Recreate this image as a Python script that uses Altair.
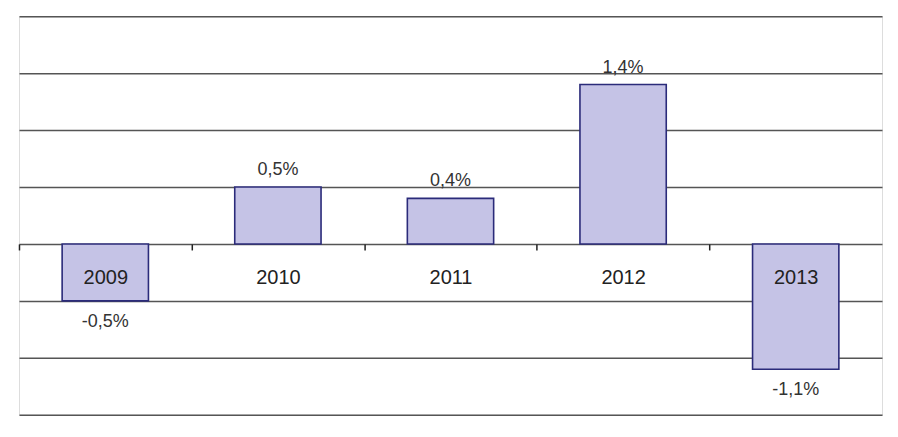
import altair as alt
import pandas as pd

years = ["2009", "2010", "2011", "2012", "2013"]
values = [-0.5, 0.5, 0.4, 1.4, -1.1]
y_ticks = [-1.5, -1.0, -0.5, 0.0, 0.5, 1.0, 1.5, 2.0]

df = pd.DataFrame({"year": years, "value": values})

W, H = 864, 399
zero_px = H * (2.0 - 0.0) / 3.5
step = W / 5

base = alt.Chart(df)

x_enc = alt.X(
    "year:N",
    sort=years,
    title=None,
    scale=alt.Scale(paddingInner=0.5, paddingOuter=0.25),
    axis=alt.Axis(
        orient="bottom",
        offset=-(H - zero_px),
        domain=False,
        ticks=True,
        tickOffset=-step / 2,
        labelOffset=step / 2,
        tickSize=6,
        tickColor="#222222",
        tickWidth=1.5,
        tickOpacity=1,
        labelAngle=0,
        labelFont="Liberation Sans",
        labelFontSize=20,
        labelColor="#222222",
        labelPadding=18,
        labelBaseline="top",
        zindex=2,
        grid=False,
    ),
)

y_enc = alt.Y(
    "value:Q",
    title=None,
    scale=alt.Scale(domain=[-1.5, 2.0], nice=False, zero=False),
    axis=alt.Axis(
        values=y_ticks,
        labels=False,
        ticks=False,
        domain=False,
        grid=True,
        gridColor="#555555",
        gridWidth=1.5,
        gridOpacity=1,
    ),
)

bars = base.mark_bar(
    fill="#c5c3e6", stroke="#2b2b7a", strokeWidth=1.6
).encode(x=x_enc, y=y_enc, y2=alt.datum(0))

lab_expr = "replace(replace(format(datum.value, '.1f'), '.', ','), '\u2212', '-') + '%'"

pos_labels = base.mark_text(
    font="Liberation Sans", fontSize=18, color="#333333", baseline="bottom", dy=-8
).transform_filter("datum.value >= 0").transform_calculate(lab=lab_expr).encode(
    x=alt.X("year:N", sort=years),
    y=alt.Y("value:Q"),
    text="lab:N",
)

neg_labels = base.mark_text(
    font="Liberation Sans", fontSize=18, color="#333333", baseline="top", dy=12
).transform_filter("datum.value < 0").transform_calculate(lab=lab_expr).encode(
    x=alt.X("year:N", sort=years),
    y=alt.Y("value:Q"),
    text="lab:N",
)

chart = (
    alt.layer(bars, pos_labels, neg_labels)
    .properties(width=W, height=H, padding={"left": 10, "top": 8, "right": 8, "bottom": 8})
    .configure_view(stroke="#8a8a8a", strokeWidth=1.5)
    .configure(background="white")
)

chart.save("out.html", embed_options={"renderer": "svg", "actions": False})
